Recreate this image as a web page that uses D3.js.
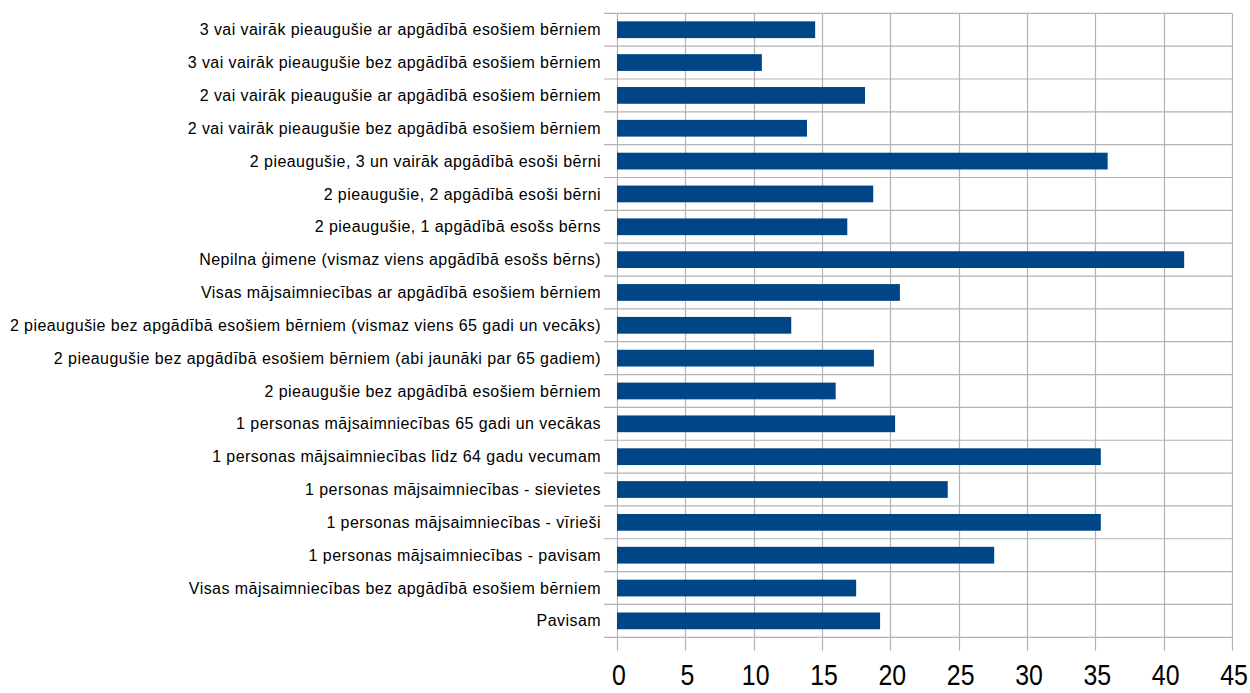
<!DOCTYPE html>
<html>
<head>
<meta charset="utf-8">
<script src="https://cdn.jsdelivr.net/npm/d3@7"></script>
<style>
  body{margin:0;background:#fff;}
  .cat text{font-family:"Liberation Sans",Arial,sans-serif;font-size:16px;letter-spacing:0.44px;fill:#000;}
  .xax text{font-family:"Liberation Sans",Arial,sans-serif;font-size:30px;fill:#000;}
</style>
</head>
<body>
<div class="canvas"></div>
<script>
// categories, top to bottom as in the picture
const categories=[
  '3 vai vairāk pieaugušie ar apgādībā esošiem bērniem',
  '3 vai vairāk pieaugušie bez apgādībā esošiem bērniem',
  '2 vai vairāk pieaugušie ar apgādībā esošiem bērniem',
  '2 vai vairāk pieaugušie bez apgādībā esošiem bērniem',
  '2 pieaugušie, 3 un vairāk apgādībā esoši bērni',
  '2 pieaugušie, 2 apgādībā esoši bērni',
  '2 pieaugušie, 1 apgādībā esošs bērns',
  'Nepilna ģimene (vismaz viens apgādībā esošs bērns)',
  'Visas mājsaimniecības ar apgādībā esošiem bērniem',
  '2 pieaugušie bez apgādībā esošiem bērniem (vismaz viens 65 gadi un vecāks)',
  '2 pieaugušie bez apgādībā esošiem bērniem (abi jaunāki par 65 gadiem)',
  '2 pieaugušie bez apgādībā esošiem bērniem',
  '1 personas mājsaimniecības 65 gadi un vecākas',
  '1 personas mājsaimniecības līdz 64 gadu vecumam',
  '1 personas mājsaimniecības - sievietes',
  '1 personas mājsaimniecības - vīrieši',
  '1 personas mājsaimniecības - pavisam',
  'Visas mājsaimniecības bez apgādībā esošiem bērniem',
  'Pavisam'
];
const values=[14.5,10.6,18.15,13.9,35.9,18.75,16.85,41.5,20.7,12.75,18.8,16.0,20.35,35.4,24.2,35.4,27.6,17.5,19.25];
const xTicks=[0,5,10,15,20,25,30,35,40,45];

const width=1250,height=693;
const plotLeft=617,plotRight=1232,plotTop=13.3,plotBottom=637.3;

const svg=d3.select('.canvas').append('svg')
    .attr('width',width)
    .attr('height',height);

const x=d3.scaleLinear().domain([0,45]).range([plotLeft,plotRight]);
const y=d3.scaleBand().domain(categories).range([plotTop,plotBottom])
    .paddingInner(0.49).paddingOuter(0.245);
const step=y.step();

// grid
const grid=svg.append('g').attr('stroke','#b3b3b3').attr('stroke-width',1.2);
grid.selectAll('line.v').data(xTicks).enter().append('line')
    .attr('x1',d=>Math.round(x(d))+0.5).attr('x2',d=>Math.round(x(d))+0.5)
    .attr('y1',plotTop).attr('y2',plotBottom+13.5);
const hLines=d3.range(categories.length+1).map(i=>plotTop+i*step);
grid.selectAll('line.h').data(hLines).enter().append('line')
    .attr('x1',plotLeft-13).attr('x2',plotRight)
    .attr('y1',d=>d).attr('y2',d=>d);

// bars
svg.append('g').selectAll('rect').data(values).enter().append('rect')
    .attr('x',x(0))
    .attr('y',(d,i)=>y(categories[i]))
    .attr('width',d=>x(d)-x(0))
    .attr('height',y.bandwidth())
    .attr('fill','#004586');

// category labels
svg.append('g').attr('class','cat').selectAll('text').data(categories).enter().append('text')
    .attr('x',plotLeft-16)
    .attr('y',d=>y(d)+y.bandwidth()/2)
    .attr('dy','0.35em')
    .attr('text-anchor','end')
    .text(d=>d);

// x tick labels (narrowed like the original condensed face)
svg.append('g').attr('class','xax').selectAll('text').data(xTicks).enter().append('text')
    .attr('transform',d=>`translate(${x(d)+2},685) scale(0.83,1)`)
    .attr('text-anchor','middle')
    .text(d=>d);
</script>
</body>
</html>
